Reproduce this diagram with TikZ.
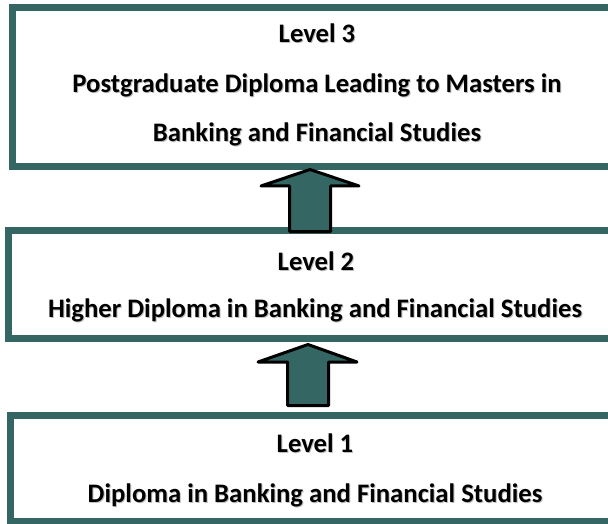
\documentclass[tikz,border=0pt]{standalone}
\usepackage{fontspec}
\setmainfont{Carlito}
\definecolor{boxteal}{RGB}{52,102,100}
\newcommand\shtext[1]{\makebox[0pt][l]{\raisebox{-1pt}{\hspace{1pt}\textcolor{black!25}{#1}}}#1}
\begin{document}
\begin{tikzpicture}[x=1pt,y=-1pt,
  lvlbox/.style={draw=boxteal, line width=7pt},
  lbl/.style={font=\bfseries\fontsize{26.7}{30}\selectfont, anchor=base, inner sep=0pt},
  blockarrow/.style={fill=boxteal, draw=black, line width=3pt, line join=round}]
\useasboundingbox (0,0) rectangle (608,524);
\clip (0,0) rectangle (608,524);
\fill[white] (0,0) rectangle (608,524);
% boxes
\draw[lvlbox] (12.5,7.5) rectangle (640,166.5);
\draw[lvlbox] (8.5,230.5) rectangle (640,338.5);
\draw[lvlbox] (10,415) rectangle (640,521);
% texts
\node[lbl] (t3) at (317,43) {\shtext{Level 3}};
\node[lbl] (t3a) at (317,93) {\shtext{Postgraduate Diploma Leading to Masters in}};
\node[lbl] (t3b) at (317,142) {\shtext{Banking and Financial Studies}};
\node[lbl] (t2) at (316,270) {\shtext{Level 2}};
\node[lbl] (t2a) at (315,317) {\shtext{Higher Diploma in Banking and Financial Studies}};
\node[lbl] (t1) at (315,452) {\shtext{Level 1}};
\node[lbl] (t1a) at (315,502) {\shtext{Diploma in Banking and Financial Studies}};
% block arrows
\draw[blockarrow] (310,169.5) -- (261,186) -- (289.5,186) -- (289.5,231.5)
  -- (330.5,231.5) -- (330.5,186) -- (359,186) -- cycle;
\draw[blockarrow] (308,344.5) -- (258,362) -- (287.5,362) -- (287.5,405.5)
  -- (328.5,405.5) -- (328.5,362) -- (357,362) -- cycle;
\end{tikzpicture}
\end{document}
